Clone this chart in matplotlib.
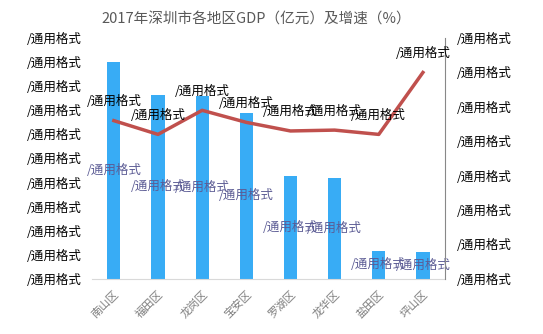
import matplotlib
matplotlib.use("Agg")
import matplotlib.pyplot as plt
from matplotlib.ticker import FixedLocator, FixedFormatter

plt.rcParams['font.family'] = ['Noto Sans CJK SC', 'DejaVu Sans']

districts = ['南山区', '福田区', '龙岗区', '宝安区', '罗湖区', '龙华区', '盐田区', '坪山区']
gdp = [4500, 3820, 3800, 3450, 2140, 2090, 580, 560]
growth = [9.2, 8.4, 9.8, 9.1, 8.6, 8.65, 8.4, 12.0]
bad_label = '/通用格式'

bar_color = '#38acf5'
line_color = '#c0504d'

fig = plt.figure(figsize=(5.43, 3.34), dpi=100)
ax = fig.add_axes([0.169, 0.165, 0.6505, 0.721])
x = list(range(len(districts)))

ax.bar(x, gdp, width=0.3, color=bar_color, zorder=2)
ax.set_xlim(-0.5, len(districts) - 0.5)
ax.set_ylim(0, 5000)
ax.yaxis.set_major_locator(FixedLocator([i * 500 for i in range(11)]))
ax.yaxis.set_major_formatter(FixedFormatter([bad_label] * 11))
ax.tick_params(axis='y', length=0, pad=7, labelsize=9, colors='black')
ax.set_xticks(x)
ax.set_xticklabels(districts, rotation=45, ha='right', rotation_mode='anchor',
                   fontsize=8, color='#7f7f7f')
ax.tick_params(axis='x', length=0, pad=7)
for s in ['top', 'left', 'right']:
    ax.spines[s].set_visible(False)
ax.spines['bottom'].set_color('#d9d9d9')

# bar value labels in the middle of each bar
for xi, v in zip(x, gdp):
    ax.text(xi, v / 2, bad_label, ha='center', va='center', fontsize=9,
            color='#5b5b94', zorder=5)

ax2 = ax.twinx()
ax2.plot(x, growth, color=line_color, linewidth=2.5, zorder=3)
ax2.set_ylim(0, 14)
ax2.yaxis.set_major_locator(FixedLocator([i * 2 for i in range(8)]))
ax2.yaxis.set_major_formatter(FixedFormatter([bad_label] * 8))
ax2.tick_params(axis='y', length=0, pad=8.5, labelsize=9, colors='black')
for s in ['top', 'left', 'bottom']:
    ax2.spines[s].set_visible(False)
ax2.spines['right'].set_color('#888888')

for xi, g in zip(x, growth):
    ax2.annotate(bad_label, (xi, g), xytext=(0, 9), textcoords='offset points',
                 ha='center', va='bottom', fontsize=9, color='black')

fig.text(0.471, 0.94, '2017年深圳市各地区GDP（亿元）及增速（%）', ha='center',
         va='center', fontsize=10.5, color='#595959')

fig.savefig('out.png', dpi=100)
